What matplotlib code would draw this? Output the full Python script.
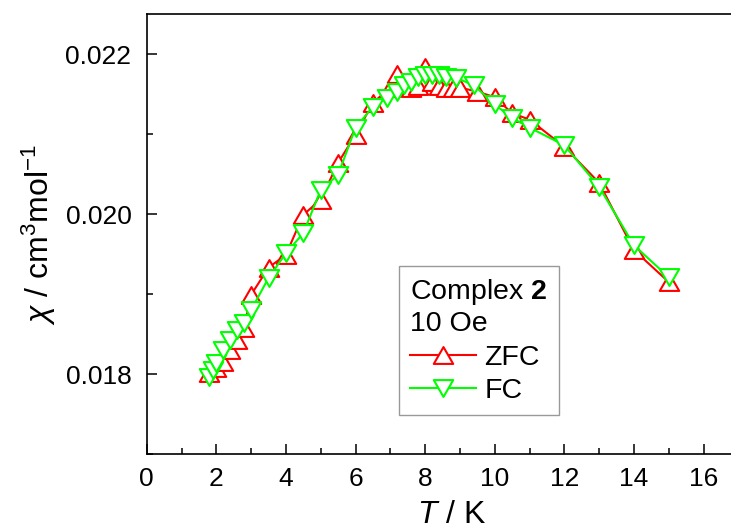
import matplotlib
matplotlib.use("Agg")
import matplotlib.pyplot as plt
from matplotlib.path import Path
from matplotlib.ticker import MultipleLocator, FormatStrFormatter

plt.rcParams['font.family'] = ['Liberation Sans', 'DejaVu Sans']
plt.rcParams['mathtext.fontset'] = 'custom'
plt.rcParams['mathtext.rm'] = 'Liberation Sans'
plt.rcParams['mathtext.it'] = 'Liberation Sans:italic'
plt.rcParams['mathtext.bf'] = 'Liberation Sans:bold'

# ZFC data
T_zfc = [1.8, 2.0, 2.2, 2.4, 2.6, 2.8, 3.0, 3.5, 4.0, 4.5, 5.0, 5.5, 6.0, 6.5,
         7.0, 7.2, 7.4, 7.6, 7.8, 8.0, 8.2, 8.4, 8.6, 8.8, 9.0, 9.5,
         10.0, 10.5, 11.0, 12.0, 13.0, 14.0, 15.0]
chi_zfc = [0.01801, 0.01808, 0.01815, 0.01830, 0.01843, 0.01858, 0.01899, 0.01933,
           0.01949, 0.01999, 0.02018, 0.02064, 0.02099, 0.02139,
           0.02158, 0.02175, 0.02163, 0.02158, 0.02160, 0.02184, 0.02165, 0.02160,
           0.02158, 0.02158, 0.02158, 0.02153,
           0.02146, 0.02126, 0.02118, 0.02084, 0.02039, 0.01955, 0.01915]

# FC data
T_fc = [1.8, 1.9, 2.0, 2.2, 2.4, 2.6, 2.8, 3.0, 3.5, 4.0, 4.5, 5.0, 5.5, 6.0, 6.5,
        6.9, 7.2, 7.4, 7.6, 7.8, 8.0, 8.2, 8.4, 8.6, 8.9, 9.4,
        10.0, 10.5, 11.0, 12.0, 13.0, 14.0, 15.0]
chi_fc = [0.01796, 0.01805, 0.01814, 0.01830, 0.01843, 0.01855, 0.01864, 0.01880,
          0.01920, 0.01951, 0.01976, 0.02030, 0.02049, 0.02108, 0.02134,
          0.02145, 0.02153, 0.02161, 0.02165, 0.02171, 0.02174, 0.02174, 0.02174,
          0.02171, 0.02170, 0.02161,
          0.02137, 0.02120, 0.02108, 0.02086, 0.02034, 0.01961, 0.01921]

x_ticks = [0, 2, 4, 6, 8, 10, 12, 14, 16]
y_ticks = [0.018, 0.020, 0.022]

W, H = 731, 531
fig = plt.figure(figsize=(W / 100, H / 100), dpi=100)
left_px, top_px, bottom_px = 146.7, 14, 454
px_per_unit = 34.8
xmax = 17.5
ax = fig.add_axes([left_px / W, 1 - bottom_px / H,
                   xmax * px_per_unit / W, (bottom_px - top_px) / H])

up = Path([(0, 0.866), (-1, -0.866), (1, -0.866), (0, 0.866)],
          [Path.MOVETO, Path.LINETO, Path.LINETO, Path.CLOSEPOLY])
down = Path([(0, -0.866), (-1, 0.866), (1, 0.866), (0, -0.866)],
            [Path.MOVETO, Path.LINETO, Path.LINETO, Path.CLOSEPOLY])

red = '#FF0000'
green = '#00FF00'
ax.plot(T_zfc, chi_zfc, color=red, lw=1.5, marker=up, ms=14,
        mfc='white', mec=red, mew=1.5, label='ZFC', zorder=3)
ax.plot(T_fc, chi_fc, color=green, lw=1.5, marker=down, ms=14,
        mfc='white', mec=green, mew=1.5, label='FC', zorder=4)

ax.set_xlim(0, xmax)
ax.set_ylim(0.017, 0.0225)
ax.set_xticks(x_ticks)
ax.set_yticks(y_ticks)
ax.xaxis.set_minor_locator(MultipleLocator(1))
ax.yaxis.set_minor_locator(MultipleLocator(0.001))
ax.yaxis.set_major_formatter(FormatStrFormatter('%.3f'))

ax.tick_params(which='both', direction='in', top=False, right=False, width=1.1)
ax.tick_params(which='major', length=7.5, labelsize=19)
ax.tick_params(which='minor', length=4)
ax.tick_params(axis='x', which='major', pad=9)
ax.tick_params(axis='y', which='major', pad=11)

for s in ['left', 'bottom', 'top']:
    ax.spines[s].set_linewidth(1.2)
ax.spines['right'].set_visible(False)

ax.set_xlabel('$T$ / K', fontsize=23)
ax.set_ylabel(r'$\chi$ / cm$^{3}$mol$^{-1}$', fontsize=23)
ax.xaxis.set_label_coords((452 - left_px) / (xmax * px_per_unit),
                          -(500 - bottom_px) / (bottom_px - top_px))
ax.yaxis.set_label_coords(-(left_px - 58) / (xmax * px_per_unit), 0.5)

leg = ax.legend(title='Complex $\\mathbf{2}$\n10 Oe', loc='upper left',
                bbox_to_anchor=(399 / W, 1 - 266 / H), bbox_transform=fig.transFigure,
                borderaxespad=0, fontsize=20.5, title_fontsize=20.5, frameon=True,
                fancybox=False, edgecolor='#808080', handlelength=2.3,
                handletextpad=0.3, labelspacing=0.25, borderpad=0.4,
                alignment='left')
leg.get_frame().set_linewidth(1.0)

fig.savefig('out.png', dpi=100)
